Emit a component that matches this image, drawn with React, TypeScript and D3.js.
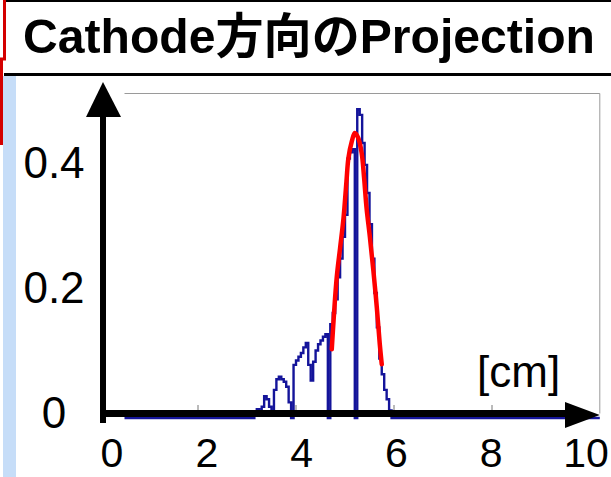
import * as d3 from 'd3';
import React from 'react';

// histogram of the cathode-direction projection, 0.05 cm bins from 3.0 cm
const binStart = 3.0;
const binWidth = 0.05;
const binValues = [
    0, 0, 0, 0.005, 0.014, 0.01, 0.018, 0.035, 0.03, 0.018,
    0.01, 0.045, 0.062, 0.066, 0.062, 0.058, 0.05, 0.025, 0, 0.085,
    0.092, 0.098, 0.104, 0.113, 0.12, 0.085, 0.06, 0.09, 0.108, 0.118,
    0.124, 0.13, 0.134, 0, 0.15, 0.168, 0.19, 0.225, 0.255, 0.29,
    0.325, 0.415, 0.425, 0.43, 0, 0.494, 0.485, 0.44, 0.405, 0.36,
    0.31, 0.255, 0.2, 0.145, 0.095, 0.07, 0.045, 0.03, 0.012, 0,
];

// gaussian fit
const fitX = [4.73, 4.83, 4.9, 4.97, 5.03, 5.07, 5.14, 5.2, 5.27, 5.34, 5.39, 5.44, 5.51, 5.58, 5.65, 5.71, 5.75];
const fitY = [0.11, 0.224, 0.272, 0.32, 0.379, 0.416, 0.443, 0.456, 0.448, 0.424, 0.384, 0.336, 0.288, 0.235, 0.176, 0.118, 0.086];

const xTicks = [0, 2, 4, 6, 8, 10];
const yTicks = [0, 0.2, 0.4];
const title = 'Cathode方向のProjection';
const unitLabel = '[cm]';

const W = 611;
const H = 477;

export default function App() {
    const x = d3.scaleLinear().domain([0, 10]).range([100, 590]);
    const y = d3.scaleLinear().domain([0, 0.4]).range([418, 168]);
    // tick labels sit a little off the tick marks in the original slide
    const xLab = d3.scaleLinear().domain([0, 10]).range([112, 586]);

    const histPts = [
        { x: 0.5, v: 0 },
        ...binValues.map((v, i) => ({ x: binStart + i * binWidth, v })),
        { x: binStart + binValues.length * binWidth, v: 0 },
        { x: 10.2, v: 0 },
    ];
    const histLine = d3.line<{ x: number; v: number }>()
        .x(d => x(d.x))
        .y(d => y(d.v))
        .curve(d3.curveStepAfter);

    const fitLine = d3.line<number>()
        .x((d, i) => x(fitX[i]))
        .y(d => y(d))
        .curve(d3.curveCatmullRom);

    const axY = 413.5;
    const axX = 103;
    const font = "'Liberation Sans', Arial, 'Noto Sans CJK JP', sans-serif";

    return (
        <svg width={W} height={H} style={{ display: 'block' }}>
            <style>{`body{margin:0}`}</style>
            <rect width={W} height={H} fill="#fff" />

            {/* left decorations of the slide */}
            <rect x={3} y={76} width={13} height={H - 76} fill="#c6ddf8" />
            <path d="M4.5,0 V59 H1.5 V145" fill="none" stroke="#d40000" strokeWidth={3} />
            <line x1={6} x2={W} y1={1} y2={1} stroke="#000" strokeWidth={2} />
            <line x1={4} x2={W} y1={74.5} y2={74.5} stroke="#000" strokeWidth={3} />
            <text x={23} y={53} fontFamily={font} fontWeight="bold" fontSize={48}
                textLength={572} lengthAdjust="spacingAndGlyphs" fill="#000">{title}</text>

            {/* plot frame */}
            <path d={`M${x(0.5)},93.5 H${x(10.2)} V${axY}`} fill="none" stroke="#9a9a9a" strokeWidth={1} />

            {/* data */}
            <path d={histLine(histPts) || ''} fill="none" stroke="#14149a" strokeWidth={2.4} />
            <path d={fitLine(fitY) || ''} fill="none" stroke="#ff0000" strokeWidth={4.5} strokeLinecap="round" />

            {/* axes */}
            {xTicks.slice(1, -1).map(t => (
                <line key={t} x1={x(t)} x2={x(t)} y1={405} y2={411} stroke="#777" strokeWidth={1} />
            ))}
            <line x1={axX - 3} x2={565} y1={axY} y2={axY} stroke="#000" strokeWidth={7} />
            <path d={`M565,402 L${x(10.2)},415 L565,428 Z`} fill="#000" />
            <line x1={axX} x2={axX} y1={423} y2={115} stroke="#000" strokeWidth={6} />
            <path d={`M86,117 L${axX},82 L121,117 Z`} fill="#000" />

            {yTicks.map(t => (
                <text key={t} x={54} y={y(t) + 10} textAnchor="middle" fontFamily={font}
                    fontSize={44} fill="#000">{t === 0 ? '0' : String(t)}</text>
            ))}
            {xTicks.map(t => (
                <text key={t} x={xLab(t)} y={467} textAnchor="middle" fontFamily={font}
                    fontSize={41} fill="#000">{t}</text>
            ))}
            <text x={477} y={387} fontFamily={font} fontSize={44} fill="#000">{unitLabel}</text>
        </svg>
    );
}
